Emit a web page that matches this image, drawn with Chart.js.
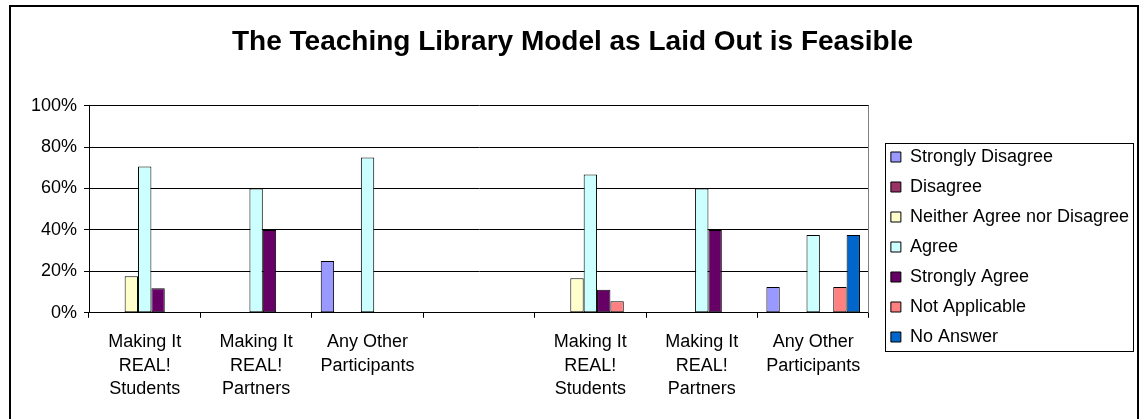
<!DOCTYPE html>
<html>
<head>
<meta charset="utf-8">
<title>Teaching Library Model</title>
<script src="https://cdn.jsdelivr.net/npm/chart.js@4.4.1/dist/chart.umd.min.js"></script>
<style>
  html, body { margin: 0; padding: 0; background: #fff; }
  #feasChart { display: block; }
</style>
</head>
<body>
<canvas id="feasChart" width="1145" height="419"></canvas>
<script>
// groups of respondents, two survey rounds separated by an empty slot
const categories = [
    ['Making It', 'REAL!', 'Students'],
    ['Making It', 'REAL!', 'Partners'],
    ['Any Other', 'Participants'],
    '',
    ['Making It', 'REAL!', 'Students'],
    ['Making It', 'REAL!', 'Partners'],
    ['Any Other', 'Participants']
];

// answers in percent of each group
const stronglyDisagree = [null, null, 25, null, null, null, 12.5];
const disagree         = [null, null, null, null, null, null, null];
const neitherNor       = [17.6, null, null, null, 16.7, null, null];
const agree            = [70.6, 60, 75, null, 66.7, 60, 37.5];
const stronglyAgree    = [11.8, 40, null, null, 11.1, 40, null];
const notApplicable    = [null, null, null, null, 5.6, null, 12.5];
const noAnswer         = [null, null, null, null, null, null, 37.5];

const yTicks = [0, 20, 40, 60, 80, 100];

const FONT = "'Liberation Sans', Arial, sans-serif";

function series(label, data, color){
    return {
        label: label,
        data: data,
        backgroundColor: color,
        borderColor: '#000',
        borderWidth: 1,
        borderSkipped: false
    };
}

// frame round the whole chart, box round the legend, grey right edge of the plot
const framePlugin = {
    id: 'frames',
    afterLayout(chart){
        const lg = chart.legend;
        lg.left += 10; lg.right += 10;
        lg.top += 40; lg.bottom += 40;
    },
    afterDraw(chart){
        const ctx = chart.ctx;
        const a = chart.chartArea;
        ctx.save();
        ctx.strokeStyle = '#808080';
        ctx.lineWidth = 1;
        ctx.beginPath();
        ctx.moveTo(Math.round(a.right) - 0.5, a.top);
        ctx.lineTo(Math.round(a.right) - 0.5, a.bottom);
        ctx.stroke();

        const lg = chart.legend;
        const pad = lg.options.labels.padding;
        const col = lg.columnSizes[0];
        const firstTop = (lg.top + pad + lg.bottom - col.height) / 2;
        const x0 = lg.left + pad - 6;
        const y0 = firstTop - 5;
        const w = col.width + 10;
        const h = col.height - pad + 10;
        ctx.strokeStyle = '#000';
        ctx.strokeRect(Math.round(x0) + 0.5, Math.round(y0) + 0.5, Math.round(w), Math.round(h));

        ctx.lineWidth = 2;
        ctx.strokeRect(10, 6, 1128, 500);
        ctx.restore();
    }
};

Chart.defaults.font.family = FONT;
Chart.defaults.color = '#000';

const chart = new Chart(document.getElementById('feasChart'), {
    type: 'bar',
    data: {
        labels: categories,
        datasets: [
            series('Strongly Disagree', stronglyDisagree, '#9999FF'),
            series('Disagree', disagree, '#993366'),
            series('Neither Agree nor Disagree', neitherNor, '#FFFFCC'),
            series('Agree', agree, '#CCFFFF'),
            series('Strongly Agree', stronglyAgree, '#660066'),
            series('Not Applicable', notApplicable, '#FF8080'),
            series('No Answer', noAnswer, '#0066CC')
        ]
    },
    options: {
        responsive: false,
        animation: false,
        devicePixelRatio: 1,
        layout: { padding: { left: 16, right: 16, top: 0, bottom: 5 } },
        datasets: { bar: { categoryPercentage: 0.84, barPercentage: 1 } },
        plugins: {
            title: {
                display: true,
                text: 'The Teaching Library Model as Laid Out is Feasible',
                color: '#000',
                font: { family: FONT, size: 28, weight: 'bold', lineHeight: 1.2 },
                padding: { top: 25, bottom: 47 }
            },
            legend: {
                position: 'right',
                labels: {
                    color: '#000',
                    font: { family: FONT, size: 18 },
                    boxWidth: 10,
                    boxHeight: 10,
                    padding: 12
                }
            },
            tooltip: { enabled: false }
        },
        scales: {
            x: {
                grid: { display: true, drawOnChartArea: false, color: '#000', tickLength: 5 },
                border: { display: true, color: '#000' },
                ticks: {
                    autoSkip: false,
                    maxRotation: 0,
                    padding: 13,
                    color: '#000',
                    font: { family: FONT, size: 18, lineHeight: 1.3 }
                }
            },
            y: {
                min: 0,
                max: 100,
                afterFit: function(scale){ scale.width = 73; },
                afterBuildTicks: function(scale){ scale.ticks = yTicks.map(v => ({ value: v })); },
                grid: { color: '#000', tickLength: 5 },
                border: { display: true, color: '#000' },
                ticks: {
                    padding: 7,
                    color: '#000',
                    font: { family: FONT, size: 18 },
                    callback: function(v){ return v + '%'; }
                }
            }
        }
    },
    plugins: [framePlugin]
});
</script>
</body>
</html>
